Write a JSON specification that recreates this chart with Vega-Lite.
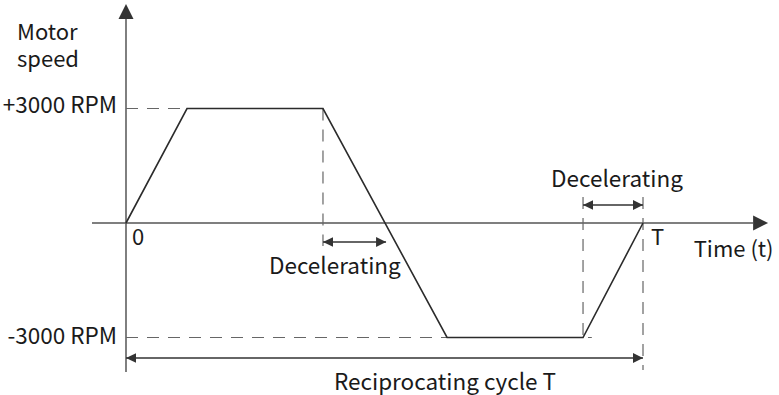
{
  "$schema": "https://vega.github.io/schema/vega-lite/v6.json",
  "width": 779,
  "height": 395,
  "autosize": {"type": "none"},
  "padding": 0,
  "background": "white",
  "config": {"view": {"stroke": null}},
  "datasets": {
    "profile": [
      {"t": 0, "s": 0},
      {"t": 1.18, "s": 3000},
      {"t": 3.81, "s": 3000},
      {"t": 6.21, "s": -3000},
      {"t": 8.84, "s": -3000},
      {"t": 10, "s": 0}
    ],
    "axes": [
      {"t": -0.658, "t2": 12.13, "s": 0, "s2": 0},
      {"t": 0, "t2": 0, "s": -3904, "s2": 5345}
    ],
    "axisArrows": [
      {"t": 12.42, "s": 0, "dir": "right"},
      {"t": 0, "s": 5738, "dir": "up"}
    ],
    "guides": [
      {"t": 0, "t2": 1.18, "s": 3000, "s2": 3000},
      {"t": 3.81, "t2": 3.81, "s": 3000, "s2": -603},
      {"t": 0, "t2": 9.01, "s": -3000, "s2": -3000},
      {"t": 8.84, "t2": 8.84, "s": 681, "s2": -3000},
      {"t": 10, "t2": 10, "s": 681, "s2": -3852}
    ],
    "spans": [
      {"t": 3.81, "t2": 5.03, "s": -498, "s2": -498},
      {"t": 8.84, "t2": 10, "s": 472, "s2": 472},
      {"t": 0, "t2": 10, "s": -3537, "s2": -3537}
    ],
    "spanArrows": [
      {"t": 3.81, "s": -498, "dir": "left"},
      {"t": 5.03, "s": -498, "dir": "right"},
      {"t": 8.84, "s": 472, "dir": "left"},
      {"t": 10, "s": 472, "dir": "right"},
      {"t": 0, "s": -3537, "dir": "left"},
      {"t": 10, "s": -3537, "dir": "right"}
    ],
    "leftLabels": [
      {"t": -2.108, "s": 4800, "text": "Motor"},
      {"t": -2.108, "s": 4087, "text": "speed"},
      {"t": 0.116, "s": -576, "text": "0"},
      {"t": 10.155, "s": -576, "text": "T"},
      {"t": 10.98, "s": -891, "text": "Time (t)"}
    ],
    "rightLabels": [
      {"t": -0.174, "s": 2882, "text": "+3000 RPM"},
      {"t": -0.174, "s": -3170, "text": "-3000 RPM"}
    ],
    "centerLabels": [
      {"t": 9.497, "s": 943, "text": "Decelerating"},
      {"t": 4.04, "s": -1336, "text": "Decelerating"},
      {"t": 6.17, "s": -4375, "text": "Reciprocating cycle T"}
    ]
  },
  "encoding": {
    "x": {"field": "t", "type": "quantitative", "scale": {"domain": [-2.4371, 12.6305], "nice": false, "zero": false}, "axis": null},
    "y": {"field": "s", "type": "quantitative", "scale": {"domain": [-4506.6, 5842.8], "nice": false, "zero": false}, "axis": null}
  },
  "layer": [
    {
      "data": {"name": "axes"},
      "mark": {"type": "rule", "color": "#555555", "strokeWidth": 1.5},
      "encoding": {"x2": {"field": "t2"}, "y2": {"field": "s2"}}
    },
    {
      "data": {"name": "guides"},
      "mark": {"type": "rule", "color": "#666666", "strokeWidth": 1.2, "strokeDash": [12, 9]},
      "encoding": {"x2": {"field": "t2"}, "y2": {"field": "s2"}}
    },
    {
      "data": {"name": "spans"},
      "mark": {"type": "rule", "color": "#333333", "strokeWidth": 1.5},
      "encoding": {"x2": {"field": "t2"}, "y2": {"field": "s2"}}
    },
    {
      "data": {"name": "profile"},
      "mark": {"type": "line", "color": "#2b2b2b", "strokeWidth": 1.6},
      "encoding": {}
    },
    {
      "data": {"name": "axisArrows"},
      "mark": {"type": "point", "filled": true, "opacity": 1, "color": "#333333", "size": 225},
      "encoding": {
        "shape": {"field": "dir", "type": "nominal", "legend": null,
          "scale": {"domain": ["right", "left", "up"], "range": ["M0,0L-2,-1L-2,1Z", "M0,0L2,-0.95L2,0.95Z", "M0,0L-1,2L1,2Z"]}}
      }
    },
    {
      "data": {"name": "spanArrows"},
      "mark": {"type": "point", "filled": true, "opacity": 1, "color": "#333333", "size": 100},
      "encoding": {
        "shape": {"field": "dir", "type": "nominal", "legend": null}
      }
    },
    {
      "data": {"name": "leftLabels"},
      "mark": {"type": "text", "align": "left", "baseline": "alphabetic", "font": "Noto Sans CJK SC", "fontSize": 22, "color": "#1a1a1a"},
      "encoding": {"text": {"field": "text"}}
    },
    {
      "data": {"name": "rightLabels"},
      "mark": {"type": "text", "align": "right", "baseline": "alphabetic", "font": "Noto Sans CJK SC", "fontSize": 22.5, "color": "#1a1a1a"},
      "encoding": {"text": {"field": "text"}}
    },
    {
      "data": {"name": "centerLabels"},
      "mark": {"type": "text", "align": "center", "baseline": "alphabetic", "font": "Noto Sans CJK SC", "fontSize": 22.5, "color": "#1a1a1a"},
      "encoding": {"text": {"field": "text"}}
    }
  ]
}
